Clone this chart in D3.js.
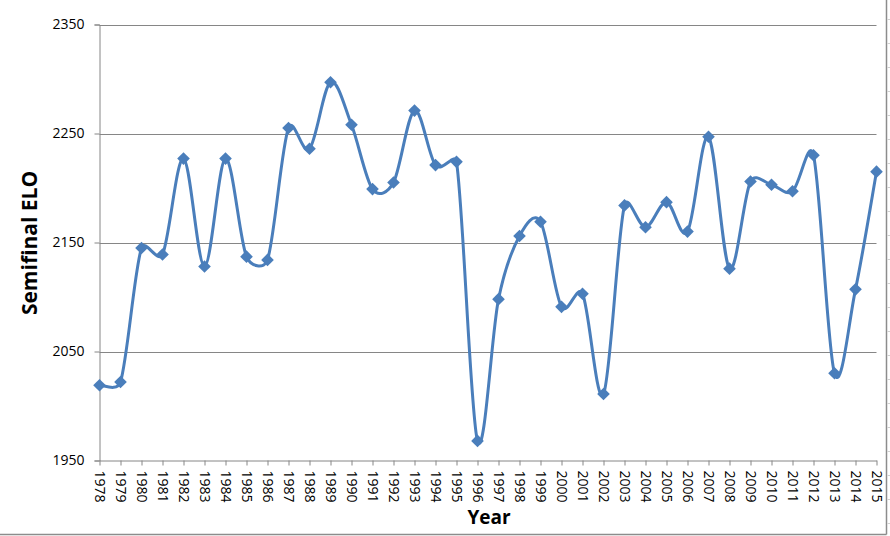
<!DOCTYPE html>
<html>
<head>
<meta charset="utf-8">
<script src="https://cdn.jsdelivr.net/npm/d3@7"></script>
<style>
  html, body { margin: 0; padding: 0; background: #fff; }
  svg { display: block; }
</style>
</head>
<body>
<svg id="chart" width="890" height="536"></svg>
<script>
// Data
const years = [1978, 1979, 1980, 1981, 1982, 1983, 1984, 1985, 1986, 1987,
               1988, 1989, 1990, 1991, 1992, 1993, 1994, 1995, 1996, 1997,
               1998, 1999, 2000, 2001, 2002, 2003, 2004, 2005, 2006, 2007,
               2008, 2009, 2010, 2011, 2012, 2013, 2014, 2015];
const elo = [2019, 2022, 2145, 2139, 2227, 2128, 2227, 2137, 2134, 2255,
             2236, 2297, 2258, 2199, 2205, 2271, 2221, 2224, 1968, 2098,
             2156, 2169, 2091, 2103, 2011, 2184, 2164, 2187, 2160, 2247,
             2126, 2206, 2203, 2197, 2230, 2030, 2107, 2215];
const yTicks = [1950, 2050, 2150, 2250, 2350];

const svg = d3.select("#chart");

// plot area
const margin = { left: 99.5, right: 876.5, top: 24.5, bottom: 460.5 };

const data = years.map((y, i) => ({ year: y, value: elo[i] }));

const xScale = d3.scalePoint()
    .domain(years)
    .range([margin.left, margin.right]);

const yScale = d3.scaleLinear()
    .domain([1950, 2350])
    .range([margin.bottom, margin.top]);

const axisColor = "#868686";
const lineColor = "#4A7EBB";
const font = "'Open Sans', Lato, sans-serif";

// outer frame (right + bottom edges visible in the picture)
svg.append("line")
    .attr("x1", 886.5).attr("x2", 886.5)
    .attr("y1", 0).attr("y2", 534.5)
    .attr("stroke", "#8c8c8c").attr("stroke-width", 1.5);
svg.append("line")
    .attr("x1", 0).attr("x2", 886.5)
    .attr("y1", 534.5).attr("y2", 534.5)
    .attr("stroke", "#8c8c8c").attr("stroke-width", 1.5);
for (let yy = 19; yy < 534; yy += 24) {
    svg.append("line")
        .attr("x1", 887.5).attr("x2", 890)
        .attr("y1", yy + 0.5).attr("y2", yy + 0.5)
        .attr("stroke", "#d0d0d0");
}

// horizontal gridlines
svg.append("g")
    .selectAll("line")
    .data(yTicks.slice(1))
    .enter()
    .append("line")
    .attr("x1", margin.left).attr("x2", margin.right)
    .attr("y1", d => Math.round(yScale(d)) + 0.5)
    .attr("y2", d => Math.round(yScale(d)) + 0.5)
    .attr("stroke", axisColor)
    .attr("stroke-width", 1);

// Y axis
const yAxis = d3.axisLeft(yScale)
    .tickValues(yTicks)
    .tickSize(5)
    .tickPadding(10)
    .tickFormat(d3.format("d"));

const gy = svg.append("g")
    .attr("transform", `translate(${margin.left},0)`)
    .call(yAxis);
gy.select(".domain").attr("stroke", axisColor);
gy.selectAll(".tick line").attr("stroke", axisColor);
gy.selectAll("text")
    .style("font-size", "14px")
    .style("font-family", font)
    .attr("fill", "#000");

// X axis
const xAxis = d3.axisBottom(xScale)
    .tickSize(5)
    .tickSizeOuter(0);

const gx = svg.append("g")
    .attr("transform", `translate(0,${margin.bottom})`)
    .call(xAxis);
gx.select(".domain").attr("stroke", axisColor);
gx.selectAll(".tick line").attr("stroke", axisColor);
gx.selectAll("text")
    .attr("transform", "rotate(90)")
    .attr("x", 10)
    .attr("y", 0)
    .attr("dy", "0.35em")
    .attr("text-anchor", "start")
    .style("font-size", "14px")
    .style("font-family", font)
    .attr("fill", "#000");

// axis titles
svg.append("text")
    .attr("transform", `translate(37,243) rotate(-90)`)
    .attr("text-anchor", "middle")
    .style("font-size", "21px")
    .style("font-weight", "bold")
    .style("font-family", font)
    .text("Semifinal ELO");

svg.append("text")
    .attr("x", (margin.left + margin.right) / 2 + 1)
    .attr("y", 524)
    .attr("text-anchor", "middle")
    .style("font-size", "19px")
    .style("font-weight", "bold")
    .style("font-family", font)
    .text("Year");

// Excel-style smoothing: bezier arms of 1/6 of the neighbour chord,
// capped at half the segment length
function smoothPath(pts) {
    const p = d3.path();
    const dist = (a, b) => Math.hypot(b[0] - a[0], b[1] - a[1]);
    p.moveTo(pts[0][0], pts[0][1]);
    for (let i = 0; i < pts.length - 1; i++) {
        const p0 = pts[Math.max(i - 1, 0)], p1 = pts[i],
              p2 = pts[i + 1], p3 = pts[Math.min(i + 2, pts.length - 1)];
        const d12 = dist(p1, p2), d02 = dist(p0, p2), d13 = dist(p1, p3);
        let f0 = 1 / 6, f1 = 1 / 6;
        if (d02 / 6 > d12 / 2) f0 = d12 / (2 * d02);
        if (d13 / 6 > d12 / 2) f1 = d12 / (2 * d13);
        const c1 = [p1[0] + f0 * (p2[0] - p0[0]), p1[1] + f0 * (p2[1] - p0[1])];
        const c2 = [p2[0] - f1 * (p3[0] - p1[0]), p2[1] - f1 * (p3[1] - p1[1])];
        p.bezierCurveTo(c1[0], c1[1], c2[0], c2[1], p2[0], p2[1]);
    }
    return p.toString();
}

const pts = data.map(d => [xScale(d.year), yScale(d.value)]);

svg.append("path")
    .attr("d", smoothPath(pts))
    .attr("fill", "none")
    .attr("stroke", lineColor)
    .attr("stroke-width", 3)
    .attr("stroke-linejoin", "round");

// diamond markers
const marker = d3.symbol().type(d3.symbolSquare).size(80);
svg.append("g")
    .selectAll("path")
    .data(data)
    .enter()
    .append("path")
    .attr("d", marker)
    .attr("transform", d => `translate(${xScale(d.year)},${yScale(d.value)}) rotate(45)`)
    .attr("fill", lineColor);
</script>
</body>
</html>
